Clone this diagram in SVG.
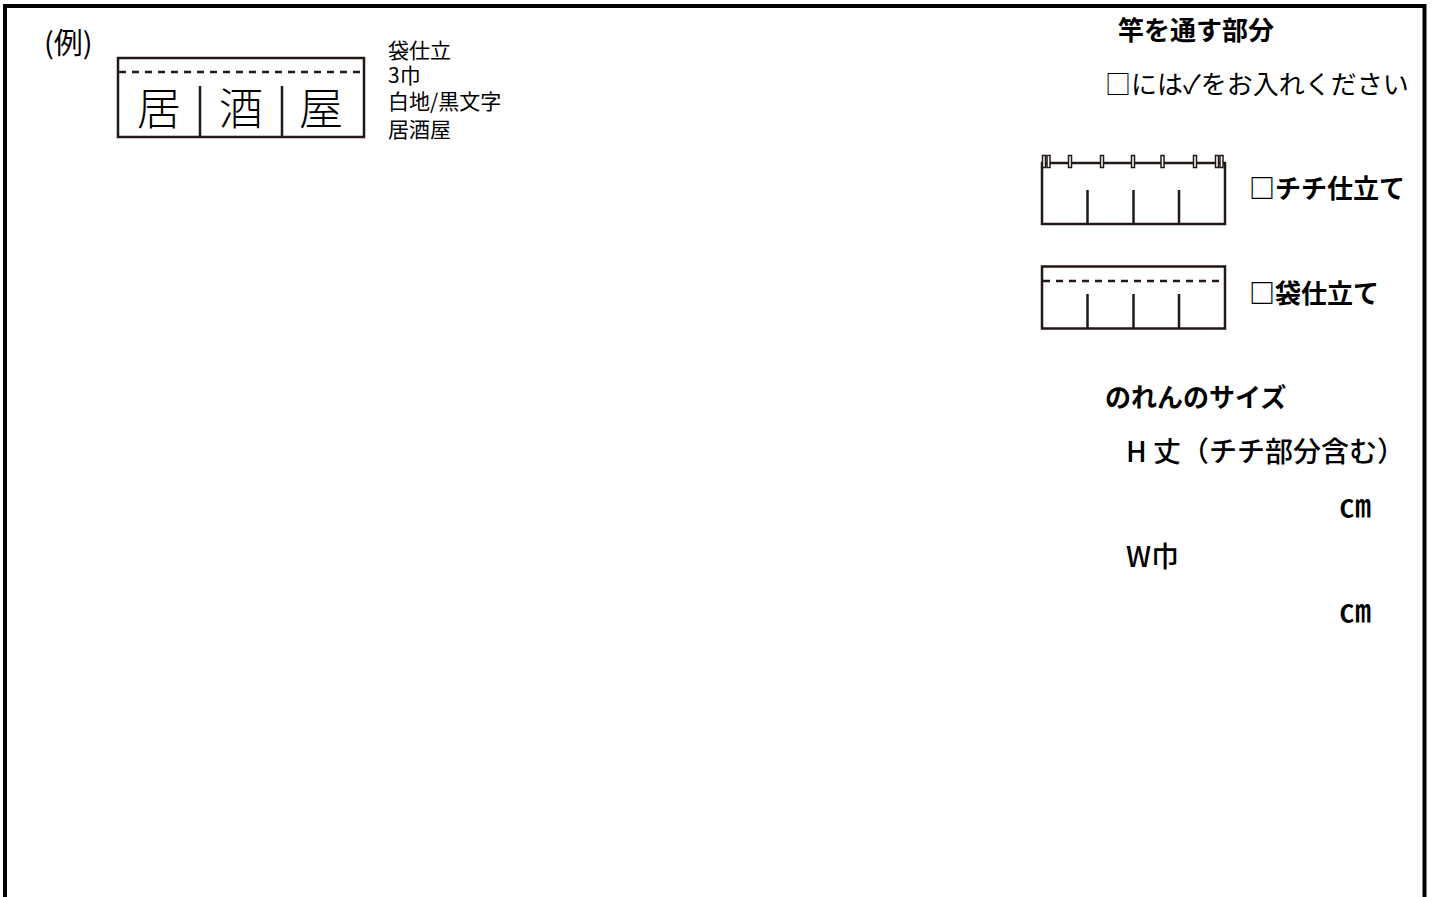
<svg xmlns="http://www.w3.org/2000/svg" width="1432" height="897" viewBox="0 0 1432 897">
<style>
.t{font-family:"Noto Sans CJK JP","Noto Sans",sans-serif;fill:#000}
.b{font-weight:bold}
.s{font-size:21px}
.ln{stroke:#231815;stroke-width:2.5;fill:none}
.ds{stroke:#231815;stroke-width:2.5;stroke-dasharray:7,6;fill:none}
</style>
<rect width="1432" height="897" fill="#fff"/>
<g id="frame"><path d="M5,900 V6 H1424.5 V900" fill="none" stroke="#000" stroke-width="4"/></g>
<g id="example">
<text class="t" x="44" y="54" font-size="29">(例)</text>
<rect class="ln" x="118" y="58" width="246" height="79"/>
<line class="ds" x1="119" y1="72" x2="363" y2="72"/>
<line class="ln" x1="200" y1="86" x2="200" y2="137"/>
<line class="ln" x1="282" y1="86" x2="282" y2="137"/>
<g font-weight="300">
<text class="t" x="159" y="125" font-size="44" text-anchor="middle">居</text>
<text class="t" x="241" y="125" font-size="44" text-anchor="middle">酒</text>
<text class="t" x="321" y="125" font-size="44" text-anchor="middle">屋</text>
</g>
<text class="t s" x="388" y="58">袋仕立</text>
<text class="t s" x="388" y="83">3巾</text>
<text class="t s" x="388" y="109">白地/黒文字</text>
<text class="t s" x="388" y="137">居酒屋</text>
</g>
<g id="header">
<text class="t b" x="1118" y="40" font-size="26">竿を通す部分</text>
<text class="t" x="1105" y="94" font-size="26">□には✓をお入れください</text>
</g>
<g id="chichi">
<rect class="ln" x="1042" y="163" width="183" height="61"/>
<line class="ln" x1="1087.5" y1="190" x2="1087.5" y2="224"/>
<line class="ln" x1="1133.5" y1="190" x2="1133.5" y2="224"/>
<line class="ln" x1="1179" y1="190" x2="1179" y2="224"/>
<g fill="#fff" stroke="#231815" stroke-width="1.5">
<rect x="1042.5" y="155.5" width="3" height="12"/>
<rect x="1047" y="155.5" width="3" height="12"/>
<rect x="1068.5" y="155.5" width="3" height="12"/>
<rect x="1100.5" y="155.5" width="3" height="12"/>
<rect x="1131.5" y="155.5" width="3" height="12"/>
<rect x="1161" y="155.5" width="3" height="12"/>
<rect x="1193.5" y="155.5" width="3" height="12"/>
<rect x="1215.5" y="155.5" width="3" height="12"/>
<rect x="1220" y="155.5" width="3" height="12"/>
</g>
<text class="t b" x="1249" y="198" font-size="26">□チチ仕立て</text>
</g>
<g id="fukuro">
<rect class="ln" x="1042" y="266.5" width="183" height="62"/>
<line class="ds" x1="1043" y1="281" x2="1224" y2="281"/>
<line class="ln" x1="1087.5" y1="294" x2="1087.5" y2="329"/>
<line class="ln" x1="1133.5" y1="294" x2="1133.5" y2="329"/>
<line class="ln" x1="1179" y1="294" x2="1179" y2="329"/>
<text class="t b" x="1249" y="303" font-size="26">□袋仕立て</text>
</g>
<g id="size">
<text class="t b" x="1105" y="407" font-size="26">のれんのサイズ</text>
<text class="t" x="1126" y="462" font-size="28" font-weight="500">H 丈（チチ部分含む）</text>
<text class="t" x="1339" y="517" font-size="32" font-weight="500">㎝</text>
<text class="t" x="1126" y="567" font-size="28" font-weight="500">W巾</text>
<text class="t" x="1339" y="622" font-size="32" font-weight="500">㎝</text>
</g>
</svg>
